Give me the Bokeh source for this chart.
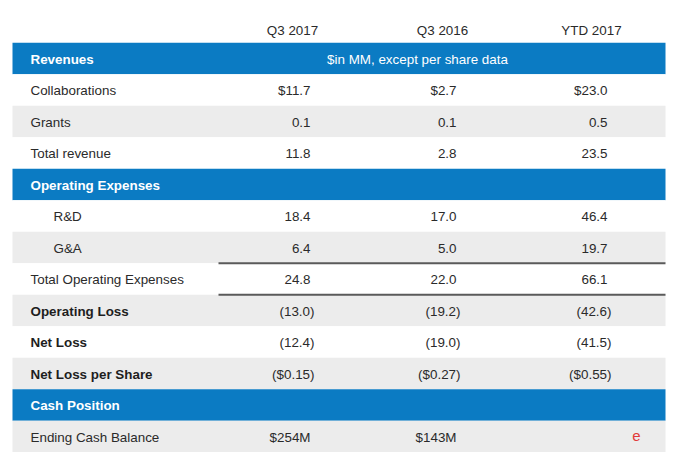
from bokeh.plotting import figure
from bokeh.models import Range1d, ColumnDataSource
from bokeh.core.properties import value
from bokeh.embed import file_html
from bokeh.resources import INLINE

# ---- data ----
columns = ["Q3 2017", "Q3 2016", "YTD 2017"]
labels = ["Revenues", "Collaborations", "Grants", "Total revenue",
          "Operating Expenses", "R&D", "G&A", "Total Operating Expenses",
          "Operating Loss", "Net Loss", "Net Loss per Share",
          "Cash Position", "Ending Cash Balance"]
row_kind = ["section", "plain", "plain", "plain",
            "section", "indent", "indent", "plain",
            "bold", "bold", "bold",
            "section", "plain"]
q3_2017 = ["", "$11.7", "0.1", "11.8", "", "18.4", "6.4", "24.8",
           "(13.0)", "(12.4)", "($0.15)", "", "$254M"]
q3_2016 = ["", "$2.7", "0.1", "2.8", "", "17.0", "5.0", "22.0",
           "(19.2)", "(19.0)", "($0.27)", "", "$143M"]
ytd_2017 = ["", "$23.0", "0.5", "23.5", "", "46.4", "19.7", "66.1",
            "(42.6)", "(41.5)", "($0.55)", "", ""]
unit_note = "$in MM, except per share data"
shaded_rows = [2, 6, 8, 10, 12]
rule_rows = [7]  # rows with rules above & below in value columns

# ---- layout / style ----
BLUE = "#0B7BC3"
GRAY = "#ECECEC"
TXT = "#2a2a2a"
FONT = value("Liberation Sans")
FS = "13.4px"
TL, TR = 12, 665
col_right = [310, 456, 607]
col_head = [292, 442, 591]
n = len(labels)

p = figure(width=670, height=452, output_backend="svg", toolbar_location=None,
           x_range=Range1d(0, 670), y_range=Range1d(12.508, -1.841),
           min_border=0, background_fill_color="white", border_fill_color="white")
p.axis.visible = False
p.grid.visible = False
p.outline_line_color = None

rows = list(range(n))
fills = []
for i in rows:
    if row_kind[i] == "section":
        fills.append(BLUE)
    elif i in shaded_rows:
        fills.append(GRAY)
    else:
        fills.append("#FFFFFF")
p.quad(left=[TL] * n, right=[TR] * n, top=[i - 0.5 for i in rows],
       bottom=[i + 0.5 for i in rows], fill_color=fills, line_color=None)

# rules around total operating expenses
for r in rule_rows:
    p.segment(x0=[218, 218], x1=[TR, TR], y0=[r - 0.5, r + 0.5], y1=[r - 0.5, r + 0.5],
              line_color="#5a5a5a", line_width=2)

# column headers
p.text(x=col_head, y=[-0.88] * 3, text=columns, text_font=FONT, text_font_size=FS,
       text_color=TXT, text_align="center", text_baseline="middle")

# row labels
for kind, xpos, style, color in [("section", 30, "bold", "white"),
                                 ("plain", 30, "normal", TXT),
                                 ("indent", 53, "normal", TXT),
                                 ("bold", 30, "bold", "#1e1e1e")]:
    idx = [i for i in rows if row_kind[i] == kind]
    src = ColumnDataSource(dict(x=[xpos] * len(idx), y=[i + 0.02 for i in idx],
                                t=[labels[i] for i in idx]))
    p.text(x="x", y="y", text="t", source=src, text_font=FONT, text_font_size=FS,
           text_font_style=style, text_color=color, text_align="left",
           text_baseline="middle")

# unit note in first section band
p.text(x=[417], y=[0.02], text=[unit_note], text_font=FONT, text_font_size=FS,
       text_color="white", text_align="center", text_baseline="middle")

# values
for c, vals in enumerate([q3_2017, q3_2016, ytd_2017]):
    xs, ys, ts = [], [], []
    for i, v in enumerate(vals):
        if v:
            xs.append(col_right[c] + (4 if v.endswith(")") else 0))
            ys.append(i + 0.02)
            ts.append(v)
    p.text(x=xs, y=ys, text=ts, text_font=FONT, text_font_size=FS,
           text_color=TXT, text_align="right", text_baseline="middle")

# small watermark logo mark
p.text(x=[636], y=[12.0], text=["e"], text_font=FONT, text_font_size="15px",
       text_color="#e23a3a", text_align="center", text_baseline="middle")

open("out.html", "w").write(file_html(p, INLINE))
